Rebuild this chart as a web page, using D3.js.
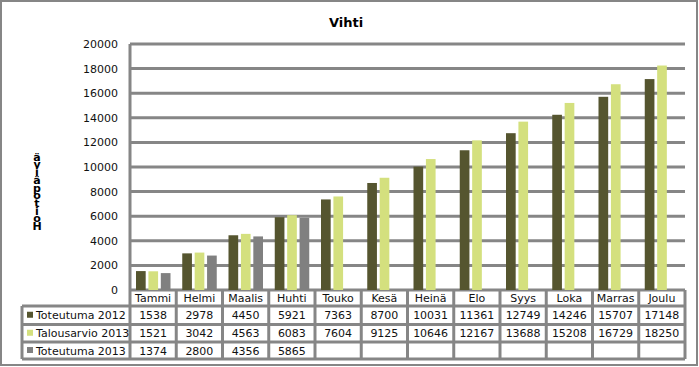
<!DOCTYPE html>
<html>
<head>
<meta charset="utf-8" />
<title>Vihti</title>
<style>
  body { margin: 0; background: #fff; }
  svg text { font-family: "DejaVu Sans", Verdana, sans-serif; }
</style>
</head>
<body>
<svg width="699" height="367"></svg>
<script src="https://cdn.jsdelivr.net/npm/d3@7"></script>
<script>
var months = ['Tammi', 'Helmi', 'Maalis', 'Huhti', 'Touko', 'Kesä', 'Heinä', 'Elo', 'Syys', 'Loka', 'Marras', 'Joulu'];
var seriesNames = ['Toteutuma 2012', 'Talousarvio 2013', 'Toteutuma 2013'];
var toteutuma2012 = [1538, 2978, 4450, 5921, 7363, 8700, 10031, 11361, 12749, 14246, 15707, 17148];
var talousarvio2013 = [1521, 3042, 4563, 6083, 7604, 9125, 10646, 12167, 13688, 15208, 16729, 18250];
var toteutuma2013 = [1374, 2800, 4356, 5865, null, null, null, null, null, null, null, null];
var yTicks = [0, 2000, 4000, 6000, 8000, 10000, 12000, 14000, 16000, 18000, 20000];

var series = [toteutuma2012, talousarvio2013, toteutuma2013];
var colors = ['#55552f', '#d4e07e', '#808080'];
var lineCol = '#868686';

var svg = d3.select('svg');

// outer frame
svg.append('rect')
    .attr('x', 1).attr('y', 1)
    .attr('width', 696).attr('height', 364)
    .attr('fill', 'none').attr('stroke', lineCol).attr('stroke-width', 2);

svg.append('text')
    .attr('x', 346).attr('y', 27)
    .attr('text-anchor', 'middle')
    .attr('font-size', 13).attr('font-weight', 'bold')
    .text('Vihti');

var plotL = 130, plotR = 685, plotT = 44, plotB = 290;

var x = d3.scaleBand().domain(months).range([plotL, plotR]);
var y = d3.scaleLinear().domain([0, 20000]).range([plotB, plotT]);
var sub = d3.scaleBand().domain([0, 1, 2]).range([0, 34.5]).paddingInner(0.22);

// gridlines
svg.append('g').selectAll('line')
    .data(yTicks)
    .enter().append('line')
    .attr('x1', plotL).attr('x2', plotR)
    .attr('y1', function (d) { return y(d); })
    .attr('y2', function (d) { return y(d); })
    .attr('stroke', lineCol).attr('stroke-width', 3);

// y axis labels
svg.append('g').selectAll('text')
    .data(yTicks)
    .enter().append('text')
    .attr('x', 118)
    .attr('y', function (d) { return y(d) + 4; })
    .attr('text-anchor', 'end')
    .attr('font-size', 11)
    .attr('fill', '#111')
    .text(function (d) { return d; });

// axis title, stacked letters bottom to top (one text element)
var title = 'Hoitopäivä'.split('');
svg.append('text')
    .attr('text-anchor', 'middle')
    .attr('font-size', 11).attr('font-weight', 'bold')
    .selectAll('tspan')
    .data(title)
    .enter().append('tspan')
    .attr('x', 37)
    .attr('y', function (d, i) { return 230 - i * 7.7; })
    .text(function (d) { return d; });

// bars
series.forEach(function (vals, s) {
    svg.append('g').selectAll('rect')
        .data(months.map(function (m, i) { return { m: m, v: vals[i] }; })
            .filter(function (d) { return d.v != null; }))
        .enter().append('rect')
        .attr('x', function (d) { return x(d.m) + 6 + sub(s); })
        .attr('width', sub.bandwidth())
        .attr('y', function (d) { return y(d.v); })
        .attr('height', function (d) { return plotB - y(d.v); })
        .attr('fill', colors[s]);
});

// data table
var rowY = [290, 306, 324.5, 342, 359];
var grid = svg.append('g').attr('stroke', lineCol).attr('stroke-width', 3);

// vertical lines through header and value rows
grid.selectAll('line.v')
    .data(months.map(function (m) { return x(m); }).concat([plotR]))
    .enter().append('line')
    .attr('x1', function (d) { return d; }).attr('x2', function (d) { return d; })
    .attr('y1', function (d, i) { return i === 0 ? plotT : rowY[0]; })
    .attr('y2', rowY[4]);

// horizontal lines
grid.selectAll('line.h')
    .data(rowY.slice(1))
    .enter().append('line')
    .attr('x1', 22).attr('x2', plotR)
    .attr('y1', function (d) { return d; }).attr('y2', function (d) { return d; });

grid.append('line')
    .attr('x1', 22).attr('x2', 22)
    .attr('y1', rowY[1]).attr('y2', rowY[4]);

// header row
svg.append('g').selectAll('text')
    .data(months)
    .enter().append('text')
    .attr('x', function (d) { return x(d) + x.bandwidth() / 2; })
    .attr('y', 302)
    .attr('text-anchor', 'middle')
    .attr('font-size', 11)
    .attr('fill', '#111')
    .text(function (d) { return d; });

// legend column + values
series.forEach(function (vals, s) {
    var cy = (rowY[s + 1] + rowY[s + 2]) / 2;
    svg.append('rect')
        .attr('x', 27).attr('y', cy - 3.5)
        .attr('width', 6).attr('height', 6)
        .attr('fill', colors[s]);
    svg.append('text')
        .attr('x', 36).attr('y', cy + 4)
        .attr('font-size', 11).attr('fill', '#111')
        .text(seriesNames[s]);
    svg.append('g').selectAll('text')
        .data(months.map(function (m, i) { return { m: m, v: vals[i] }; })
            .filter(function (d) { return d.v != null; }))
        .enter().append('text')
        .attr('x', function (d) { return x(d.m) + x.bandwidth() / 2; })
        .attr('y', cy + 4)
        .attr('text-anchor', 'middle')
        .attr('font-size', 11).attr('fill', '#111')
        .text(function (d) { return d.v; });
});
</script>
</body>
</html>
